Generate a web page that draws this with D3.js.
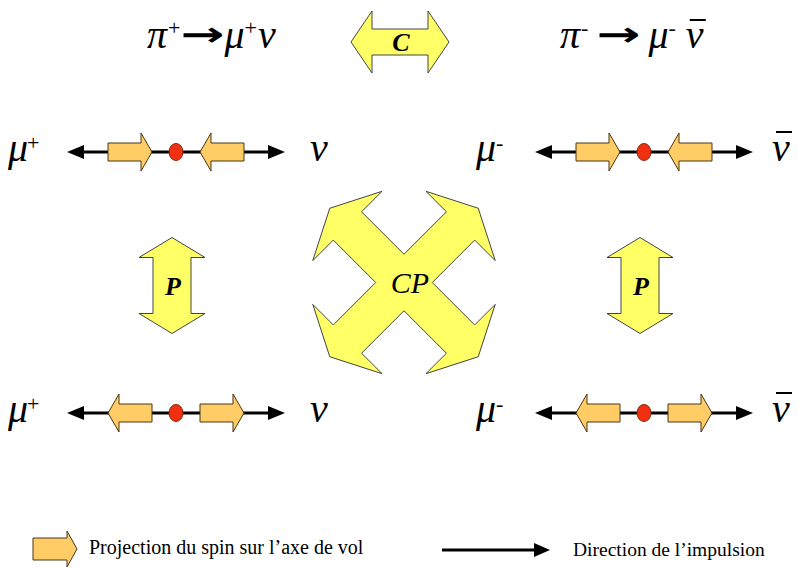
<!DOCTYPE html>
<html lang="fr">
<head>
<meta charset="UTF-8" />
<title>Symétries C, P et CP de la désintégration du pion</title>
<style>
  body { margin: 0; background: #fff; }
  svg { display: block; font-family: "Liberation Serif", "Times New Roman", serif; }
</style>
</head>
<body>
<div id="chart"></div>
<script src="https://d3js.org/d3.v7.min.js"></script>
<script>
// the two decays, one per column
const panels = ["pi+", "pi-"];
const parents = ["π", "π"];
const charges = ["+", "-"];
const leptons = ["μ", "μ"];
const neutrinos = ["ν", "ν"];
const antiNu = [false, true];
// rows: the decay as seen, then its mirror image under P
const rows = ["original", "mirror"];
const spinSense = ["in", "out"];   // spin arrows point to the dot, or away from it
const symmetries = ["C", "P", "CP"];
const legendLabels = ["Projection du spin sur l’axe de vol", "Direction de l’impulsion"];

const width = 798, height = 569;
const yellow = "#ffff66", orange = "#ffcc66", red = "#f03010";

const svg = d3.select("#chart").append("svg")
  .attr("width", width)
  .attr("height", height);

const x = d3.scalePoint().domain(panels).range([176, 644]);
const y = d3.scalePoint().domain(rows).range([152, 413]);
const mid = (x(panels[0]) + x(panels[1])) / 2 - 6;
const midY = (y(rows[0]) + y(rows[1])) / 2;

// single arrow, tail x0 -> tip x1
function arrowPts(x0, x1, cy, headLen, headHalf, bodyHalf) {
  const d = Math.sign(x1 - x0), xb = x1 - d * headLen;
  return [[x0, cy - bodyHalf], [xb, cy - bodyHalf], [xb, cy - headHalf], [x1, cy],
          [xb, cy + headHalf], [xb, cy + bodyHalf], [x0, cy + bodyHalf]];
}

function doubleArrowPts(cx, cy, half, headLen, headHalf, bodyHalf, vertical) {
  const a = -half, b = half;
  const pts = [[a, 0], [a + headLen, -headHalf], [a + headLen, -bodyHalf], [b - headLen, -bodyHalf],
               [b - headLen, -headHalf], [b, 0], [b - headLen, headHalf], [b - headLen, bodyHalf],
               [a + headLen, bodyHalf], [a + headLen, headHalf]];
  return pts.map(([u, v]) => vertical ? [cx + v, cy + u] : [cx + u, cy + v]);
}

// four diagonal arrows out of one centre
function crossPts(cx, cy, w, headHalf, uBase, uTip) {
  const pts = [];
  [-135, -45, 45, 135].forEach(deg => {
    const t = deg * Math.PI / 180;
    const a = [Math.cos(t), Math.sin(t)], p = [-Math.sin(t), Math.cos(t)];
    const at = (u, v) => [cx + a[0] * u + p[0] * v, cy + a[1] * u + p[1] * v];
    pts.push(at(uBase, -w), at(uBase, -headHalf), at(uTip, 0), at(uBase, headHalf), at(uBase, w));
    const tn = t + Math.PI / 4, r = w * Math.SQRT2;
    pts.push([cx + Math.cos(tn) * r, cy + Math.sin(tn) * r]);
  });
  return pts;
}

const line = d3.line();
const poly = pts => line(pts) + "Z";

// ---- titles: "π+ → μ+ ν", pieces laid out one after the other
const titleStart = [147, 560], titleGap = [0, 8], nuGap = [1, 10];
panels.forEach((p, i) => {
  const g = svg.append("g");
  let cur = titleStart[i];
  const a = g.append("text").attr("x", cur).attr("y", 48).style("font-size", "40px");
  a.append("tspan").style("font-style", "italic").text(parents[i]);
  a.append("tspan").attr("dx", 1).attr("dy", -13).style("font-size", "22px").text(charges[i]);
  let bb = a.node().getBBox();
  cur = bb.x + bb.width + titleGap[i];

  // heavy arrow glyph, stretched to the width it has in the original
  const arr = g.append("text").attr("y", 46)
    .style("font-family", "'DejaVu Sans', sans-serif")
    .style("font-weight", "bold").style("font-size", "34px")
    .text("→");
  bb = arr.node().getBBox();
  const k = 44 / bb.width;
  arr.attr("transform", `translate(${cur - bb.x * k},0) scale(${k},1)`);
  cur += 44 + titleGap[i];

  const b = g.append("text").attr("x", cur).attr("y", 48).style("font-size", "40px");
  b.append("tspan").style("font-style", "italic").text(leptons[i]);
  b.append("tspan").attr("dx", 0).attr("dy", -13).style("font-size", "22px").text(charges[i]);
  const nuSpan = b.append("tspan").attr("dx", nuGap[i]).attr("dy", 13)
    .style("font-style", "italic").text(neutrinos[i]);
  if (antiNu[i]) {
    const e = nuSpan.node().getBBox();
    g.append("line")
      .attr("x1", e.x + 4).attr("x2", e.x + e.width + 2)
      .attr("y1", 20).attr("y2", 20)
      .attr("stroke", "#000").attr("stroke-width", 2);
  }
});

// ---- rows of momentum + spin
panels.forEach((p, i) => {
  rows.forEach((r, j) => {
    const cx = x(p), cy = y(r);
    const g = svg.append("g");
    g.append("line")
      .attr("x1", cx - 100).attr("x2", cx + 100)
      .attr("y1", cy).attr("y2", cy)
      .attr("stroke", "#000").attr("stroke-width", 3);
    [-1, 1].forEach(s => {
      const tip = cx + s * 109;
      g.append("path")
        .attr("d", poly([[tip, cy], [tip - s * 17, cy - 7], [tip - s * 17, cy + 7]]))
        .attr("fill", "#000");
    });
    [-1, 1].forEach(s => {
      const near = cx + s * 24, far = cx + s * 68;
      const pts = spinSense[j] === "in" ? arrowPts(far, near, cy, 11, 19, 9) : arrowPts(near, far, cy, 11, 19, 9);
      g.append("path").attr("d", poly(pts))
        .attr("fill", orange).attr("stroke", "#4a3418").attr("stroke-width", 1);
    });
    g.append("ellipse")
      .attr("cx", cx).attr("cy", cy).attr("rx", 7).attr("ry", 8.5)
      .attr("fill", red).attr("stroke", "#8a2a10").attr("stroke-width", 1);

    const lab = g.append("text")
      .attr("x", cx - 168).attr("y", cy + 9)
      .style("font-size", "40px");
    lab.append("tspan").style("font-style", "italic").text(leptons[i]);
    lab.append("tspan").attr("dx", antiNu[i] ? 0 : -1).attr("dy", -11)
      .style("font-size", "22px").text(charges[i]);
    const nu = g.append("text")
      .attr("x", cx + (antiNu[i] ? 128 : 134)).attr("y", cy + 9)
      .style("font-size", "40px").style("font-style", "italic")
      .text(neutrinos[i]);
    if (antiNu[i]) {
      const b = nu.node().getBBox();
      g.append("line")
        .attr("x1", b.x + 4).attr("x2", b.x + b.width + 2)
        .attr("y1", cy - 20).attr("y2", cy - 20)
        .attr("stroke", "#000").attr("stroke-width", 2);
    }
  });
});

// ---- symmetry arrows
const sym = svg.append("g");
sym.append("path")
  .attr("d", poly(doubleArrowPts(mid - 4, 42, 49, 21, 31, 13, false)))
  .attr("fill", yellow).attr("stroke", "#444").attr("stroke-width", 1);
sym.append("text")
  .attr("x", mid - 3).attr("y", 51)
  .attr("text-anchor", "middle")
  .style("font-size", "26px").style("font-style", "italic").style("font-weight", "bold")
  .text(symmetries[0]);

panels.forEach(p => {
  const px = x(p) - 4;
  sym.append("path")
    .attr("d", poly(doubleArrowPts(px, midY + 3, 48, 20, 33, 19, true)))
    .attr("fill", yellow).attr("stroke", "#444").attr("stroke-width", 1);
  sym.append("text")
    .attr("x", px + 1).attr("y", midY + 12)
    .attr("text-anchor", "middle")
    .style("font-size", "26px").style("font-style", "italic").style("font-weight", "bold")
    .text(symmetries[1]);
});

sym.append("path")
  .attr("d", poly(crossPts(mid, midY, 20, 49, 80, 105)))
  .attr("fill", yellow).attr("stroke", "#444").attr("stroke-width", 1);
sym.append("text")
  .attr("x", mid + 6).attr("y", midY + 10)
  .attr("text-anchor", "middle")
  .style("font-size", "30px").style("font-style", "italic")
  .text(symmetries[2]);

// ---- legend
const lx = d3.scalePoint().domain(legendLabels).range([33, 442]);
const leg = svg.append("g");
leg.append("path")
  .attr("d", poly(arrowPts(lx(legendLabels[0]), lx(legendLabels[0]) + 44, 549, 10, 18, 11)))
  .attr("fill", orange).attr("stroke", "#4a3418").attr("stroke-width", 1);
leg.append("text")
  .attr("x", lx(legendLabels[0]) + 56).attr("y", 554)
  .style("font-size", "20px")
  .text(legendLabels[0]);

const l2 = lx(legendLabels[1]);
leg.append("line")
  .attr("x1", l2).attr("x2", l2 + 94)
  .attr("y1", 550).attr("y2", 550)
  .attr("stroke", "#000").attr("stroke-width", 3);
leg.append("path")
  .attr("d", poly([[l2 + 108, 550], [l2 + 92, 543], [l2 + 92, 557]]))
  .attr("fill", "#000");
leg.append("text")
  .attr("x", l2 + 131).attr("y", 556)
  .style("font-size", "19.5px")
  .text(legendLabels[1]);
</script>
</body>
</html>
